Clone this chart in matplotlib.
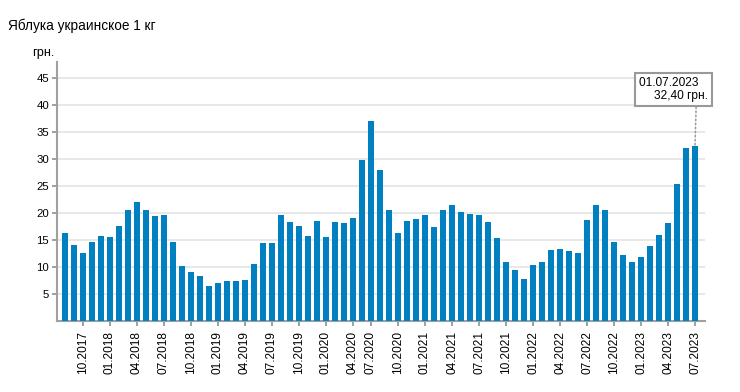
import matplotlib.pyplot as plt
import numpy as np

plt.rcParams['font.family'] = ['Liberation Sans', 'DejaVu Sans']

# Цены по месяцам (08.2017 - 07.2023), грн.
prices = [16.3, 14.0, 12.55, 14.6, 15.7, 15.5, 17.55, 20.5, 22.0, 20.5, 19.4, 19.6,
          14.6, 10.15, 9.0, 8.3, 6.45, 7.0, 7.35, 7.35, 7.55, 10.5, 14.4, 14.4,
          19.6, 18.3, 17.55, 15.7, 18.5, 15.5, 18.3, 18.1, 19.05, 29.8, 37.0, 27.9,
          20.5, 16.3, 18.5, 18.85, 19.6, 17.4, 20.5, 21.45, 20.15, 19.8, 19.6, 18.3,
          15.3, 10.9, 9.4, 7.7, 10.3, 10.9, 13.1, 13.3, 12.9, 12.55, 18.65, 21.45,
          20.5, 14.6, 12.2, 10.9, 11.8, 13.85, 15.9, 18.1, 25.35, 32.0, 32.4]

tick_pos = [2, 5, 8, 11, 14, 17, 20, 23, 26, 29, 32, 34, 37, 40, 43, 46, 49,
            52, 55, 58, 61, 64, 67, 70]
tick_labels = ["10.2017", "01.2018", "04.2018", "07.2018", "10.2018", "01.2019",
               "04.2019", "07.2019", "10.2019", "01.2020", "04.2020", "07.2020",
               "10.2020", "01.2021", "04.2021", "07.2021", "10.2021", "01.2022",
               "04.2022", "07.2022", "10.2022", "01.2023", "04.2023", "07.2023"]
yticks = [5, 10, 15, 20, 25, 30, 35, 40, 45]

last_date = "01.07.2023"
last_text = "32,40 грн."

fig = plt.figure(figsize=(7.4, 3.92), dpi=100)
ax = fig.add_axes([0.0766, 0.1819, 0.876, 0.66])

x = np.arange(len(prices))
ax.bar(x, prices, width=0.67, color='#0080c0', zorder=3)

ax.set_xlim(-0.92, 71.1)
ax.set_ylim(0, 48)

ax.set_yticks(yticks)
ax.set_yticklabels([str(v) for v in yticks], fontsize=8.2)
ax.set_xticks(tick_pos)
ax.set_xticklabels(tick_labels, rotation=90, fontsize=8.6)
ax.grid(axis='y', color='#e8e8e8', linewidth=1.4, zorder=0)

for s in ['top', 'right']:
    ax.spines[s].set_visible(False)
for s in ['left', 'bottom']:
    ax.spines[s].set_color('#a0a0a0')
    ax.spines[s].set_linewidth(1.5)
ax.tick_params(axis='both', colors='#a0a0a0', length=3.5, width=1.4, labelcolor='black', pad=2)
ax.tick_params(axis='x', pad=4)

# подпись последнего значения
ax.annotate(last_date + "   \n" + last_text, xy=(x[-1], prices[-1]),
            xytext=(13, 44), textcoords='offset pixels', ha='right', va='bottom',
            fontsize=8.6, multialignment='right', linespacing=1.1,
            bbox=dict(boxstyle='square,pad=0.35', fc='white', ec='#999999', lw=1.5),
            arrowprops=dict(arrowstyle='-', color='#999999', linestyle=':', lw=1.1,
                            relpos=(0.83, 0), shrinkA=0, shrinkB=0),
            zorder=5, annotation_clip=False)

fig.text(0.011, 0.934, "Яблука украинское 1 кг", fontsize=9.8, ha='left', va='center')
fig.text(0.074, 1 - 53 / 392, "грн.", fontsize=9.2, ha='right', va='center')

plt.savefig("out.png", dpi=100)
